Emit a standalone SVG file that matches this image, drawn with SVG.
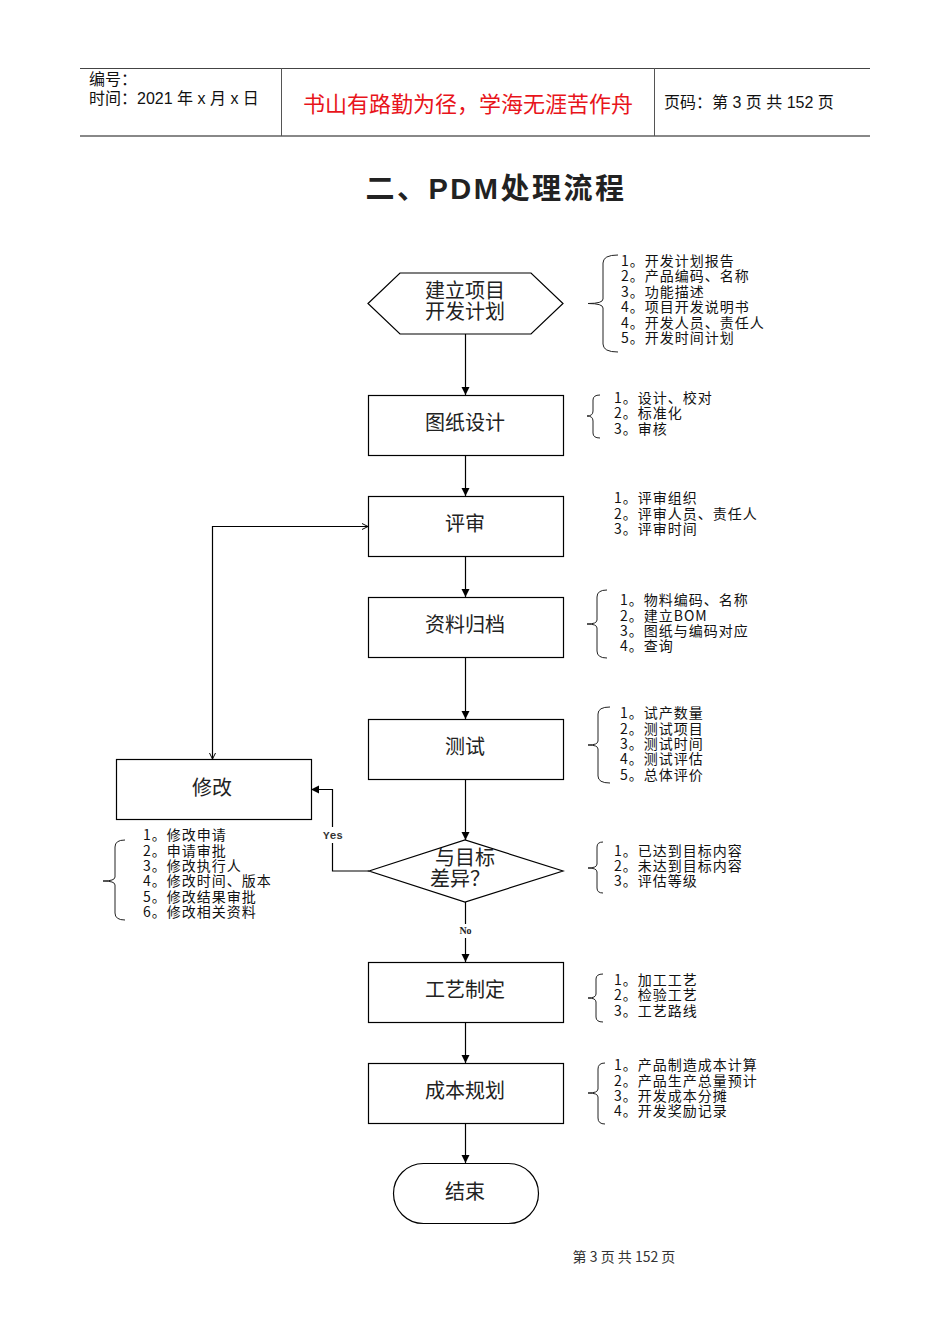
<svg xmlns="http://www.w3.org/2000/svg" width="950" height="1344" viewBox="0 0 950 1344">
<style>
.hdr{font-family:"Liberation Sans","Noto Sans CJK SC",sans-serif;font-size:16px;fill:#111}
.node{fill:#fff;stroke:#000;stroke-width:1.2}
.nt{font-family:"Noto Sans CJK SC",sans-serif;font-size:20px;fill:#222;text-anchor:middle}
.note{font-family:"Noto Sans CJK SC",sans-serif;font-size:14px;letter-spacing:1px;fill:#111}
.brace{fill:none;stroke:#222;stroke-width:1}
.conn{fill:none;stroke:#000;stroke-width:1.2}
</style>
<defs>
<marker id="fa" markerWidth="10" markerHeight="10" refX="9" refY="5" orient="auto" markerUnits="userSpaceOnUse">
<path d="M1,1 L9,5 L1,9 Z" fill="#000"/>
</marker>
<marker id="oa" markerWidth="10" markerHeight="10" refX="9" refY="5" orient="auto-start-reverse" markerUnits="userSpaceOnUse">
<path d="M3,2 L9,5 L3,8" fill="none" stroke="#000" stroke-width="1"/>
</marker>
</defs>
<rect width="950" height="1344" fill="#fff"/>
<g id="header">
<line x1="80" y1="68.5" x2="870" y2="68.5" stroke="#444" stroke-width="1"/>
<line x1="80" y1="136" x2="870" y2="136" stroke="#888" stroke-width="2"/>
<line x1="281.5" y1="68" x2="281.5" y2="136" stroke="#555" stroke-width="1"/>
<line x1="654.5" y1="68" x2="654.5" y2="136" stroke="#555" stroke-width="1"/>
<text class="hdr" x="89" y="85">编号：</text>
<text class="hdr" x="89" y="104">时间：2021 年 x 月 x 日</text>
<text x="468" y="112" text-anchor="middle" font-family="Noto Sans CJK SC,sans-serif" font-size="22" fill="#e8141b">书山有路勤为径，学海无涯苦作舟</text>
<text class="hdr" x="664" y="108" font-size="15">页码：第 3 页  共 152 页</text>
</g>
<g id="title">
<text x="496" y="199" text-anchor="middle" font-family="Liberation Sans,Noto Sans CJK SC,sans-serif" font-weight="bold" font-size="29" letter-spacing="2.5" fill="#222">二、PDM处理流程</text>
</g>
<g id="connectors">
<line class="conn" x1="465.5" y1="334" x2="465.5" y2="395" marker-end="url(#fa)"/>
<line class="conn" x1="465.5" y1="456" x2="465.5" y2="496" marker-end="url(#fa)"/>
<line class="conn" x1="465.5" y1="557" x2="465.5" y2="597" marker-end="url(#fa)"/>
<line class="conn" x1="465.5" y1="658" x2="465.5" y2="719" marker-end="url(#fa)"/>
<line class="conn" x1="465.5" y1="779" x2="465.5" y2="840" marker-end="url(#fa)"/>
<line class="conn" x1="465.5" y1="902" x2="465.5" y2="962" marker-end="url(#fa)"/>
<line class="conn" x1="465.5" y1="1022" x2="465.5" y2="1063" marker-end="url(#fa)"/>
<line class="conn" x1="465.5" y1="1124" x2="465.5" y2="1163" marker-end="url(#fa)"/>
<polyline class="conn" points="369,871 332.5,871 332.5,789.5 311,789.5" marker-end="url(#fa)"/>
<polyline class="conn" points="212.5,759 212.5,526.5 368,526.5" marker-start="url(#oa)" marker-end="url(#oa)"/>
<rect x="318" y="827" width="30" height="16" fill="#fff"/>
<text x="333" y="839" text-anchor="middle" font-family="Liberation Mono,monospace" font-size="11" font-weight="bold" fill="#333">Yes</text>
<rect x="455" y="924" width="22" height="14" fill="#fff"/>
<text x="465.5" y="934" text-anchor="middle" font-family="Liberation Serif,serif" font-size="10" font-weight="bold" fill="#222">No</text>
</g>
<g id="n_start">
<polygon class="node" points="368,303.5 400,273 531,273 563,303.5 531,334 400,334"/>
<text class="nt" x="465" y="298">建立项目</text>
<text class="nt" x="465" y="319">开发计划</text>
</g>
<g id="n_draw">
<rect class="node" x="368.5" y="395.5" width="195" height="60"/>
<text class="nt" x="465" y="430">图纸设计</text>
</g>
<g id="n_review">
<rect class="node" x="368.5" y="496.5" width="195" height="60"/>
<text class="nt" x="465" y="531">评审</text>
</g>
<g id="n_archive">
<rect class="node" x="368.5" y="597.5" width="195" height="60"/>
<text class="nt" x="465" y="632">资料归档</text>
</g>
<g id="n_test">
<rect class="node" x="368.5" y="719.5" width="195" height="60"/>
<text class="nt" x="465" y="754">测试</text>
</g>
<g id="n_modify">
<rect class="node" x="116.5" y="759.5" width="195" height="60"/>
<text class="nt" x="212" y="795">修改</text>
</g>
<g id="n_decision">
<polygon class="node" points="369,871 465,840 563,871 465,902"/>
<text class="nt" x="465" y="865">与目标</text>
<text class="nt" x="460" y="886">差异？</text>
</g>
<g id="n_process">
<rect class="node" x="368.5" y="962.5" width="195" height="60"/>
<text class="nt" x="465" y="997">工艺制定</text>
</g>
<g id="n_cost">
<rect class="node" x="368.5" y="1063.5" width="195" height="60"/>
<text class="nt" x="465" y="1098">成本规划</text>
</g>
<g id="n_end">
<rect class="node" x="393.5" y="1163.5" width="145" height="60" rx="30" ry="30"/>
<text class="nt" x="465" y="1199">结束</text>
</g>
<g id="notes">
<path class="brace" d="M618,255 Q603,255 603,263 L603,299 Q603,303.5 588,303.5 Q603,303.5 603,308 L603,344 Q603,352 618,352"/>
<text class="note" x="621" y="266">1。开发计划报告</text>
<text class="note" x="621" y="281">2。产品编码、名称</text>
<text class="note" x="621" y="297">3。功能描述</text>
<text class="note" x="621" y="312">4。项目开发说明书</text>
<text class="note" x="621" y="328">4。开发人员、责任人</text>
<text class="note" x="621" y="343">5。开发时间计划</text>

<path class="brace" d="M600,395 Q593,395 593,400 L593,411 Q593,416 587,416 Q593,416 593,421 L593,433 Q593,438 600,438"/>
<text class="note" x="614" y="403">1。设计、校对</text>
<text class="note" x="614" y="418">2。标准化</text>
<text class="note" x="614" y="434">3。审核</text>

<text class="note" x="614" y="503">1。评审组织</text>
<text class="note" x="614" y="519">2。评审人员、责任人</text>
<text class="note" x="614" y="534">3。评审时间</text>

<path class="brace" d="M607,590 Q597,590 597,597 L597,620 Q597,624 587,624 Q597,624 597,628 L597,651 Q597,658 607,658"/>
<text class="note" x="620" y="605">1。物料编码、名称</text>
<text class="note" x="620" y="621">2。建立BOM</text>
<text class="note" x="620" y="636">3。图纸与编码对应</text>
<text class="note" x="620" y="651">4。查询</text>

<path class="brace" d="M610,707 Q598,707 598,714 L598,741 Q598,745 588,745 Q598,745 598,749 L598,776 Q598,783 610,783"/>
<text class="note" x="620" y="718">1。试产数量</text>
<text class="note" x="620" y="734">2。测试项目</text>
<text class="note" x="620" y="749">3。测试时间</text>
<text class="note" x="620" y="764">4。测试评估</text>
<text class="note" x="620" y="780">5。总体评价</text>

<path class="brace" d="M125,840 Q115,840 115,847 L115,877 Q115,881 103,881 Q115,881 115,885 L115,913 Q115,920 125,920"/>
<text class="note" x="143" y="840">1。修改申请</text>
<text class="note" x="143" y="856">2。申请审批</text>
<text class="note" x="143" y="871">3。修改执行人</text>
<text class="note" x="143" y="886">4。修改时间、版本</text>
<text class="note" x="143" y="902">5。修改结果审批</text>
<text class="note" x="143" y="917">6。修改相关资料</text>

<path class="brace" d="M603,842 Q597,842 597,847 L597,864 Q597,868 588,868 Q597,868 597,872 L597,888 Q597,893 603,893"/>
<text class="note" x="614" y="856">1。已达到目标内容</text>
<text class="note" x="614" y="871">2。未达到目标内容</text>
<text class="note" x="614" y="886">3。评估等级</text>

<path class="brace" d="M603,974 Q596,974 596,979 L596,994 Q596,998 588,998 Q596,998 596,1002 L596,1017 Q596,1022 603,1022"/>
<text class="note" x="614" y="985">1。加工工艺</text>
<text class="note" x="614" y="1000">2。检验工艺</text>
<text class="note" x="614" y="1016">3。工艺路线</text>

<path class="brace" d="M605,1063 Q598,1063 598,1069 L598,1089 Q598,1093 588,1093 Q598,1093 598,1097 L598,1118 Q598,1124 605,1124"/>
<text class="note" x="614" y="1070">1。产品制造成本计算</text>
<text class="note" x="614" y="1086">2。产品生产总量预计</text>
<text class="note" x="614" y="1101">3。开发成本分摊</text>
<text class="note" x="614" y="1116">4。开发奖励记录</text>
</g>
<g id="footer">
<text x="624" y="1262" text-anchor="middle" font-family="Noto Sans CJK SC,sans-serif" font-size="14" fill="#333">第 3 页 共 152 页</text>
</g>
</svg>
